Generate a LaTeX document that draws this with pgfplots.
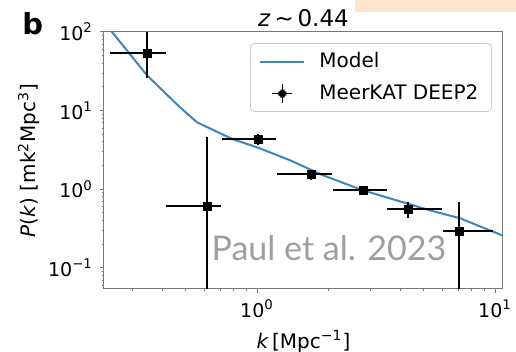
\documentclass[border=0pt]{standalone}
\usepackage{fontspec}
\setmainfont{DejaVu Sans}
\newfontfamily\wmfont{Lato}
\usepackage{pgfplots}
\usepackage{pgfplotstable}
\pgfplotsset{compat=1.18}
\definecolor{modelblue}{RGB}{58,134,192}
\definecolor{peach}{RGB}{253,228,205}
\definecolor{spine}{RGB}{120,120,120}

\pgfplotstableread{
k      P      xm     xp     ym     yp
0.345  53.5   0.104  0.070  27.8   45.5
0.617  0.608  0.202  0.089  0.598  3.97
1.01   4.32   0.30   0.19   0.70   0.68
1.69   1.55   0.48   0.38   0.25   0.19
2.79   0.97   0.70   0.73   0.06   0.06
4.31   0.557  0.78   1.69   0.129  0.127
7.06   0.292  1.03   2.74   0.282  0.392
}\datatable

\pgfplotstableread{
k      P
0.234  118
0.246  100
0.345  28.1
0.475  11.0
0.56   7.1
0.793  4.32
1.0    3.42
1.376  2.34
1.89   1.51
2.79   0.97
5.33   0.54
7.13   0.428
10.7   0.26
11.5   0.235
}\modeltable

\begin{document}
\begin{tikzpicture}
\begin{axis}[
  at={(0,0)}, anchor=south west,
  width=199.5pt, height=128.5pt, scale only axis,
  xmode=log, ymode=log,
  xmin=0.2275, xmax=10.8,
  ymin=0.054, ymax=100,
  xtick={1,10}, xticklabels={10\textsuperscript{0},10\textsuperscript{1}},
  ytick={0.1,1,10,100},
  yticklabels={10\textsuperscript{−1},10\textsuperscript{0},10\textsuperscript{1},10\textsuperscript{2}},
  minor xtick={0.3,0.4,0.5,0.6,0.7,0.8,0.9,2,3,4,5,6,7,8,9},
  minor ytick={0.06,0.07,0.08,0.09,0.2,0.3,0.4,0.5,0.6,0.7,0.8,0.9,2,3,4,5,6,7,8,9,20,30,40,50,60,70,80,90},
  tick align=outside,
  xtick pos=bottom, ytick pos=left,
  major tick length=2pt, minor tick length=1.2pt,
  axis line style={spine, line width=0.5pt},
  tick style={spine, line width=0.5pt},
  tick label style={font=\fontsize{9.5}{11}\selectfont},
  xlabel={\textit{k}\,[Mpc\textsuperscript{−1}]},
  ylabel={\textit{P}(\textit{k}) [mk\textsuperscript{2}Mpc\textsuperscript{3}]},
  label style={font=\fontsize{9.5}{11}\selectfont},
  every axis x label/.style={at={(axis description cs:0.5,-0.2296)}, anchor=base},
  every axis y label/.style={at={(axis description cs:-0.188,0.5)}, rotate=90, anchor=center},
  legend style={
    at={(0.972,0.957)}, anchor=north east,
    font=\fontsize{10}{12}\selectfont,
    draw=black!20, rounded corners=2pt, fill=white,
    inner xsep=4.5pt, inner ysep=2.5pt, row sep=3pt,
    /tikz/every odd column/.style={column sep=5pt},
  },
  legend cell align=left,
]
\addplot[modelblue, line width=1pt, no marks,
  legend image code/.code={\draw[modelblue, line width=1pt] (0pt,0pt) -- (22pt,0pt);}]
  table[x=k, y=P] {\modeltable};
\addlegendentry{Model}
\addplot[black, only marks, mark=square*, mark size=2pt,
  legend image code/.code={%
    \draw[black, line width=0.9pt] (6pt,0pt)--(16pt,0pt) (11pt,-4.7pt)--(11pt,4.7pt);
    \fill[black] (9.2pt,-1.8pt) rectangle (12.8pt,1.8pt);
    \path (0pt,0pt) (22pt,0pt);},
  error bars/.cd, x dir=both, x explicit, y dir=both, y explicit,
  error bar style={black, line width=0.9pt}, error mark=none]
  table[x=k, y=P, x error minus=xm, x error plus=xp, y error minus=ym, y error plus=yp] {\datatable};
\addlegendentry{MeerKAT DEEP2}
\end{axis}
\node[anchor=base, text=black!38, font=\wmfont\fontsize{17}{20}\selectfont] at (112.5pt,14pt) {Paul et al. 2023};
\node[anchor=base, font=\fontsize{11.5}{13}\selectfont] at (99.75pt,131pt) {\textit{z}\,∼\,0.44};
\node[anchor=base west, inner sep=0pt, font=\fontsize{14.5}{17}\selectfont\bfseries] at (-41pt,127pt) {b};
\fill[peach] (125.5pt,138.6pt) rectangle (206pt,144.5pt);
\pgfresetboundingbox
\path (-52pt,-31.5pt) rectangle (206pt,144.5pt);
\end{tikzpicture}
\end{document}
